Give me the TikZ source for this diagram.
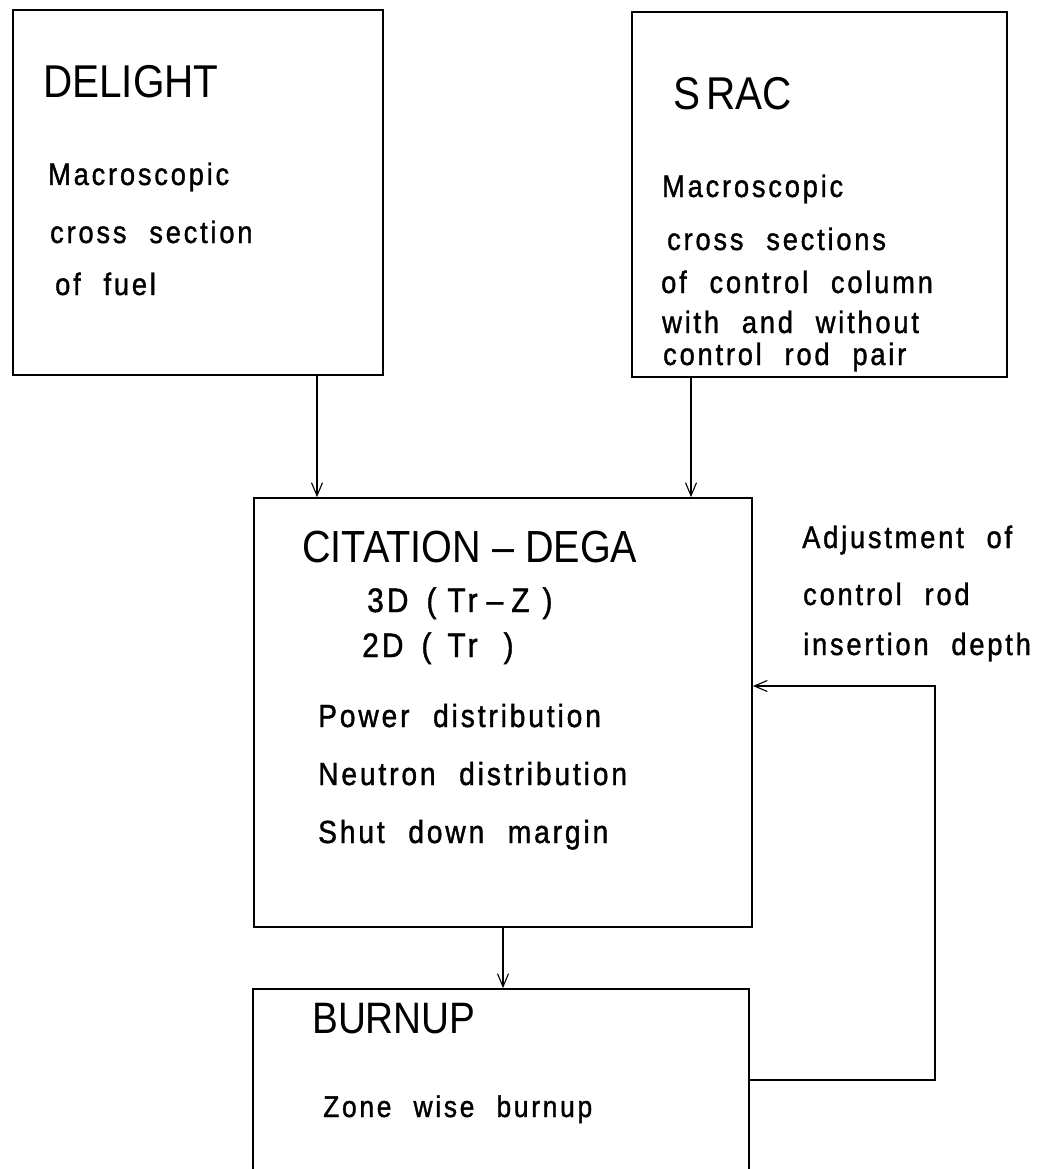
\documentclass[tikz,border=0pt]{standalone}
\usepackage{fontspec}
\setmainfont{Liberation Sans}
\newfontfamily\titlefont[FakeStretch=0.88]{Liberation Sans}
\newfontfamily\bodyfont[FakeStretch=0.88,LetterSpace=9,FakeBold=1.2,WordSpace=2.2]{Liberation Sans}
\usetikzlibrary{arrows.meta}
\tikzset{
  box/.style={draw=black, line width=1.8pt, inner sep=0pt, minimum width=#1},
  conn/.style={draw=black, line width=1.1pt},
  arr/.style={conn, -{Straight Barb[length=13pt,width=11pt,line width=1.1pt]}},
  ttl/.style={anchor=base west, inner sep=0pt, font=\titlefont\fontsize{#1}{#1}\selectfont},
  txt/.style={anchor=base west, inner sep=0pt, font=\bodyfont\fontsize{#1}{#1}\selectfont},
}
\begin{document}
\begin{tikzpicture}[x=1pt,y=-1pt]
\useasboundingbox (0,0) rectangle (1053,1169);
\clip (0,0) rectangle (1053,1169);
\fill[white] (0,0) rectangle (1053,1169);

% boxes
\node[box=370pt, minimum height=365pt] (delight) at (198,192.5) {};
\node[box=375pt, minimum height=365pt] (srac) at (819.5,194.5) {};
\node[box=498pt, minimum height=429pt] (cit) at (503,712.5) {};
\node[box=496pt, minimum height=202pt] (burn) at (501,1090) {};

% DELIGHT texts
\node[ttl=46] (dt) at (43,98) {DELIGHT};
\node[txt=31] (d1) at (48,185) {Macroscopic};
\node[txt=31] (d2) at (50,243) {cross section};
\node[txt=31] (d3) at (55,295) {of fuel};

% SRAC texts
\node[ttl=46] (st) at (673,110) {S\kern6pt RAC};
\node[txt=31] (s1) at (662,197) {Macroscopic};
\node[txt=31] (s2) at (667,250) {cross sections};
\node[txt=31] (s3) at (661,293) {of control column};
\node[txt=31] (s4) at (662,333) {with and without};
\node[txt=31] (s5) at (663,365) {control rod pair};

% CITATION texts
\node[ttl=45] (ct) at (302,562) {CITATION – DEGA};
\node[txt=34] (c1) at (367,612) {3D\kern18pt(\kern11pt Tr\kern9pt–\kern8pt Z\kern13pt)};
\node[txt=34] (c2) at (362,657) {2D\kern18pt(\kern16pt Tr\kern26pt)};
\node[txt=32] (c3) at (318,727) {Power distribution};
\node[txt=32] (c4) at (318,785) {Neutron distribution};
\node[txt=32] (c5) at (318,843) {Shut down margin};

% feedback label
\node[txt=31] (a1) at (802,548) {Adjustment of};
\node[txt=31] (a2) at (803,605) {control rod};
\node[txt=31] (a3) at (803,655) {insertion depth};

% BURNUP texts
\node[ttl=44] (bt) at (312,1033) {BURNUP};
\node[txt=30] (b1) at (323,1117) {Zone wise burnup};

% connectors
\coordinate (xl) at (317,0);
\coordinate (xr) at (691,0);
\coordinate (fb1) at (935,1080);
\coordinate (fb2) at (935,686);
\draw[arr] (delight.south -| xl) -- (cit.north -| xl);
\draw[arr] (srac.south -| xr) -- (cit.north -| xr);
\draw[arr] (cit.south) -- (burn.north -| cit.south);
\draw[arr] (burn.east |- fb1) -- (fb1) -- (fb2) -- (cit.east |- fb2);
\end{tikzpicture}
\end{document}
